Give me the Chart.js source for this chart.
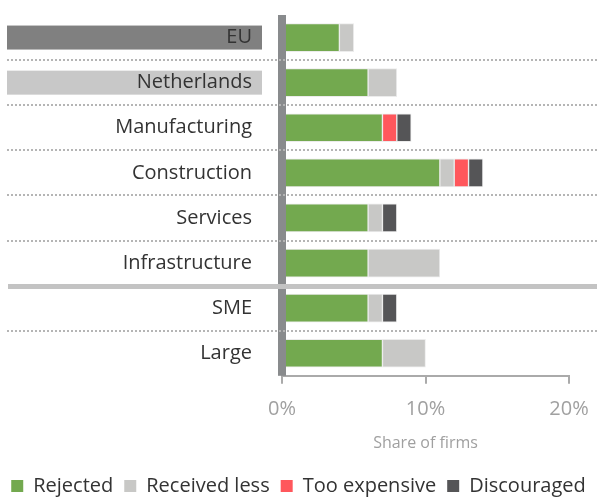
<!DOCTYPE html>
<html lang="en">
<head>
<meta charset="UTF-8" />
<title>Share of firms</title>
<script src="https://cdn.jsdelivr.net/npm/chart.js"></script>
<style>
  html, body { margin: 0; padding: 0; background: #fff; }
  #wrap { width: 597px; height: 498px; position: relative; }
</style>
</head>
<body>
<div id="wrap"><canvas id="chart"></canvas></div>
<script>
// data
const categories = ["EU", "Netherlands", "Manufacturing", "Construction", "Services", "Infrastructure", "SME", "Large"];
const rejected = [4, 6, 7, 11, 6, 6, 6, 7];
const receivedLess = [1, 2, 0, 1, 1, 5, 1, 3];
const tooExpensive = [0, 0, 1, 1, 0, 0, 0, 0];
const discouraged = [0, 0, 1, 1, 1, 0, 1, 0];
const xTickValues = [0, 10, 20];

// categories drawn with a coloured box behind the label
const labelBoxes = { "EU": "#808080", "Netherlands": "#c8c8c8" };
// the separator after this index is solid, the others dotted
const solidAfter = 5;

Chart.defaults.font.family = "'Open Sans', 'Noto Sans', sans-serif";

const decor = {
  id: "decor",
  beforeDraw(chart) {
    const { ctx, scales: { y } } = chart;
    ctx.save();
    categories.forEach((c, i) => {
      if (!labelBoxes[c]) return;
      const yc = y.getPixelForValue(i);
      ctx.fillStyle = labelBoxes[c];
      ctx.fillRect(7, yc - 12, 255, 24);
    });
    ctx.restore();
  },
  afterDatasetsDraw(chart) {
    const { ctx, chartArea, scales: { x, y } } = chart;
    ctx.save();
    // thick vertical axis
    const x0 = x.getPixelForValue(0);
    ctx.fillStyle = "#898b8d";
    ctx.fillRect(x0 - 4, chartArea.top, 8, chartArea.bottom - chartArea.top);
    // separators between categories
    for (let i = 0; i < categories.length - 1; i++) {
      const yl = Math.round((y.getPixelForValue(i) + y.getPixelForValue(i + 1)) / 2);
      ctx.beginPath();
      if (i === solidAfter) {
        ctx.strokeStyle = "#c3c3c3";
        ctx.lineWidth = 5;
        ctx.setLineDash([]);
        ctx.moveTo(8, yl + 0.5);
        ctx.lineTo(chart.width, yl + 0.5);
      } else {
        ctx.strokeStyle = "#b5b5b5";
        ctx.lineWidth = 2;
        ctx.setLineDash([2, 2]);
        ctx.moveTo(7, yl);
        ctx.lineTo(chart.width, yl);
      }
      ctx.stroke();
    }
    ctx.restore();
  }
};

const barStyle = { barThickness: 28, borderWidth: 1, borderColor: "#ececec", borderSkipped: false };

new Chart(document.getElementById("chart"), {
  type: "bar",
  data: {
    labels: categories,
    datasets: [
      { label: "Rejected", data: rejected, backgroundColor: "#73a94f", ...barStyle },
      { label: "Received less", data: receivedLess, backgroundColor: "#c8c8c6", ...barStyle },
      { label: "Too expensive", data: tooExpensive, backgroundColor: "#ff575c", ...barStyle },
      { label: "Discouraged", data: discouraged, backgroundColor: "#555557", ...barStyle }
    ]
  },
  options: {
    indexAxis: "y",
    responsive: true,
    maintainAspectRatio: false,
    animation: false,
    layout: { autoPadding: false, padding: { top: 15, right: 0, left: 0, bottom: -8 } },
    plugins: {
      tooltip: { enabled: false },
      legend: {
        position: "bottom",
        labels: {
          boxWidth: 12,
          boxHeight: 12,
          padding: 11,
          color: "#333",
          font: { size: 20 },
          generateLabels(chart) {
            return Chart.defaults.plugins.legend.labels.generateLabels(chart).map(l => ({ ...l, lineWidth: 0 }));
          }
        }
      }
    },
    scales: {
      x: {
        stacked: true,
        min: 0,
        max: 20,
        afterBuildTicks(scale) { scale.ticks = xTickValues.map(v => ({ value: v })); },
        ticks: { color: "#a0a0a0", font: { size: 20 }, padding: 13, callback: v => v + "%" },
        grid: { drawOnChartArea: false, drawTicks: true, tickLength: 8, color: "#aaa", lineWidth: 2 },
        border: { color: "#aaa", width: 2 },
        title: { display: true, text: "Share of firms", color: "#a0a0a0", font: { size: 16 }, padding: { top: 0, bottom: 12 } },
        afterFit(scale) {
          scale.paddingLeft = 0;
          scale.paddingRight = 0;
        }
      },
      y: {
        stacked: true,
        offset: true,
        ticks: { color: "#333", font: { size: 20 }, padding: 30 },
        grid: { display: false, drawTicks: false },
        border: { display: false },
        afterFit(scale) {
          scale.width = 282;
          scale.paddingTop = 0;
          scale.paddingBottom = 0;
        }
      },
      // empty axis that only keeps the plot clear of the right edge
      yRight: {
        type: "linear",
        position: "right",
        ticks: { display: false },
        grid: { display: false, drawTicks: false },
        border: { display: false },
        afterFit(scale) { scale.width = 28; }
      }
    }
  },
  plugins: [decor]
});
</script>
</body>
</html>
